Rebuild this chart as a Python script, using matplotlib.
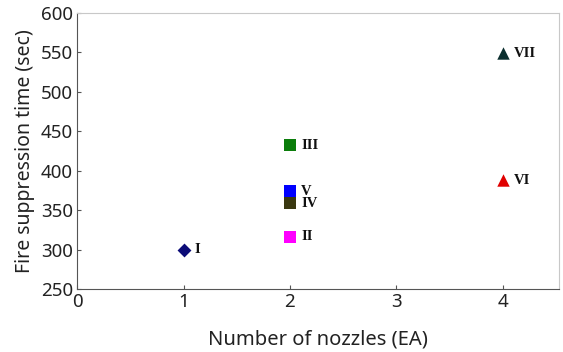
import matplotlib
matplotlib.use('Agg')
import matplotlib.pyplot as plt

labels = ['I', 'II', 'III', 'IV', 'V', 'VI', 'VII']
nozzles = [1, 2, 2, 2, 2, 4, 4]
times = [300, 316, 432, 359, 374, 388, 549]
markers = ['D', 's', 's', 's', 's', '^', '^']
colors = ['#0c0c78', '#ff00ff', '#0b7d0b', '#3a3810', '#0000ff', '#e00000', '#0b2e2e']
sizes = [50, 65, 65, 65, 65, 80, 80]

fig = plt.figure(figsize=(5.63, 3.52), dpi=100)
ax = fig.add_axes([0.137, 0.179, 0.856, 0.784])

for x, y, m, c, s, lab in zip(nozzles, times, markers, colors, sizes, labels):
    ax.scatter(x, y, marker=m, s=s, color=c, zorder=3, linewidths=0)
    ax.annotate(lab, (x, y), xytext=(8, 0), textcoords='offset points',
                va='center', ha='left', fontsize=10.5, fontweight='bold',
                family='Liberation Serif', color='#111111')

ax.set_xlim(0, 4.53)
ax.set_ylim(250, 600)
ax.set_xticks([0, 1, 2, 3, 4])
ax.set_yticks(range(250, 601, 50))

for side in ['left', 'bottom']:
    ax.spines[side].set_color('#555555')
for side in ['top', 'right']:
    ax.spines[side].set_color('#c8c8c8')

ax.tick_params(direction='in', length=3, color='#555555', labelsize=13.5, pad=3,
               labelcolor='#222222')
ax.set_xlabel('Number of nozzles (EA)', fontsize=14.5, family='Noto Sans', labelpad=13,
              color='#222222')
ax.set_ylabel('Fire suppression time (sec)', fontsize=14, family='Noto Sans', labelpad=4,
              color='#222222')
for t in ax.get_xticklabels() + ax.get_yticklabels():
    t.set_family('Noto Sans')

fig.savefig('out.png', dpi=100)
